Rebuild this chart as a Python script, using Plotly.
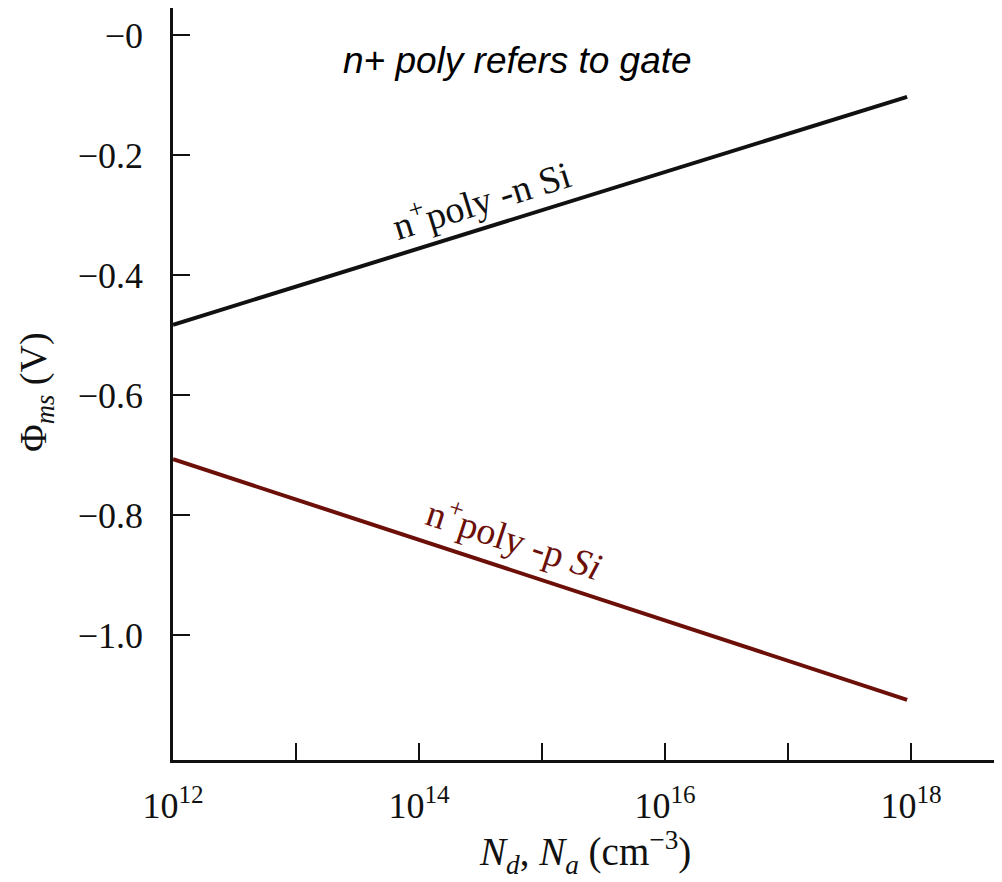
import plotly.graph_objects as go

# Data
doping = [1e12, 9.3e17]                 # N_d, N_a (cm^-3)
phi_n_si = [-0.483, -0.103]             # n+ poly - n Si (V)
phi_p_si = [-0.707, -1.108]             # n+ poly - p Si (V)

x_tick_vals = [1e12, 1e13, 1e14, 1e15, 1e16, 1e17, 1e18]
x_tick_text = ["10<sup>12</sup>", "", "10<sup>14</sup>", "", "10<sup>16</sup>", "", "10<sup>18</sup>"]
y_tick_vals = [0, -0.2, -0.4, -0.6, -0.8, -1.0]
y_tick_text = ["\u22120", "\u22120.2", "\u22120.4", "\u22120.6", "\u22120.8", "\u22121.0"]

BLACK = "#111111"
RED = "#6b0f08"
SERIF = "Liberation Serif, Times New Roman, serif"

# page body has an 8px margin; plot area target (screen): left 173, right 1000, top 8, bottom 760
PL, PR, PT, PB = 173, 1000, 8, 760
PW, PH = PR - PL, PB - PT


def px(x):
    return (x - PL) / PW


def py(y):
    return (PB - y) / PH


fig = go.Figure()
fig.add_trace(go.Scatter(x=doping, y=phi_n_si, mode="lines",
                         line=dict(color=BLACK, width=4), showlegend=False))
fig.add_trace(go.Scatter(x=doping, y=phi_p_si, mode="lines",
                         line=dict(color=RED, width=4), showlegend=False))

fig.update_layout(
    width=1002, height=882,
    margin=dict(l=PL - 8, r=1002 - (PR - 8), t=PT - 8, b=882 - (PB - 8), pad=0),
    paper_bgcolor="white", plot_bgcolor="white",
    font=dict(family=SERIF, color="#111111", size=35),
    xaxis=dict(type="log", range=[12, 12 + PW / 123], tickvals=x_tick_vals, ticktext=x_tick_text,
               showline=True, linecolor=BLACK, linewidth=2.5, ticks="inside", ticklen=17,
               tickwidth=2, tickcolor=BLACK, showgrid=False, zeroline=False,
               tickfont=dict(family=SERIF, size=36), ticklabelstandoff=12),
    yaxis=dict(range=[-(PB - 35) / 600, (35 - PT) / 600], tickvals=y_tick_vals, ticktext=y_tick_text,
               showline=True, linecolor=BLACK, linewidth=2.5, ticks="inside", ticklen=17,
               tickwidth=2, tickcolor=BLACK, showgrid=False, zeroline=False,
               tickfont=dict(family=SERIF, size=36), ticklabelstandoff=20),
    annotations=[
        dict(text="<i>n+ poly refers to gate</i>", x=px(517), y=py(60), xref="paper", yref="paper",
             xanchor="center", yanchor="middle", showarrow=False,
             font=dict(family="Liberation Sans, Arial, sans-serif", size=37, color="#000")),
        dict(text="n<sup>+</sup>poly -n Si", x=14.5, y=-0.272, xref="x", yref="y", showarrow=False,
             textangle=-17.2, font=dict(family=SERIF, size=38, color=BLACK)),
        dict(text="n<sup>+</sup>poly -p <i>Si</i>", x=14.78, y=-0.837, xref="x", yref="y", showarrow=False,
             textangle=18.2, font=dict(family=SERIF, size=38, color=RED)),
        dict(text="\u03a6<sub><i>ms</i></sub> (V)", x=px(36), y=py(392), xref="paper", yref="paper",
             xanchor="center", yanchor="middle",
             showarrow=False, textangle=-90, font=dict(family=SERIF, size=38, color=BLACK)),
        dict(text="<i>N<sub>d</sub></i>, <i>N<sub>a</sub></i> (cm<sup>\u22123</sup>)", x=px(585), y=py(852),
             xanchor="center", yanchor="middle",
             xref="paper", yref="paper", showarrow=False, font=dict(family=SERIF, size=39, color=BLACK)),
    ],
)

fig.write_html("out.html")
